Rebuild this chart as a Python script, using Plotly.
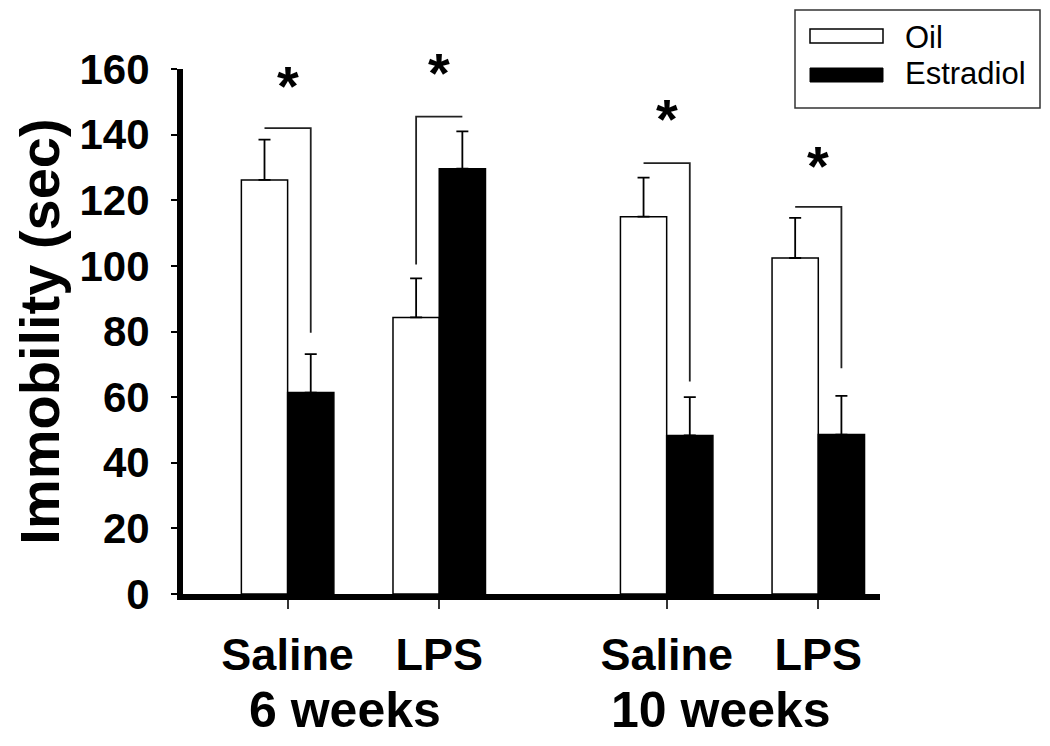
import plotly.graph_objects as go

# data (immobility, seconds)
treatments = ["Saline", "LPS", "Saline", "LPS"]
ages = ["6 weeks", "10 weeks"]
positions = [0, 1, 2.5, 3.5]

oil = [126.2, 84.3, 115.0, 102.4]
oil_err = [12.3, 11.9, 11.9, 12.2]
estradiol = [61.4, 129.6, 48.3, 48.6]
estradiol_err = [11.7, 11.4, 11.7, 11.8]

# significance brackets
bracket_top = [142, 145.5, 131.3, 118]
bracket_end = [79.6, 100.4, 64.8, 68.8]
bracket_side = ["right", "left", "right", "right"]
star_y = [158, 162, 148, 133.5]

YMAX = 160
# the page body has an 8px margin; keep the whole figure inside the window
OFF = 8
W, H = 1050 - 2 * OFF, 746 - 2 * OFF
L, R, T, B = 175, 162, 61, 144
BW = 0.305
FONT = "Liberation Sans"


def px(x):
    # page pixel -> paper x
    return (x - OFF - L) / (W - L - R)


def py(y):
    # page pixel -> paper y
    return (H - B - (y - OFF)) / (H - T - B)


fig = go.Figure()

fig.add_trace(go.Bar(
    x=positions, y=oil, name="Oil", offset=-BW, width=BW,
    marker=dict(color="white", line=dict(color="black", width=1.5)),
    error_y=dict(type="data", symmetric=False, array=oil_err,
                 arrayminus=[0] * 4, color="black", thickness=1.8, width=6),
))
fig.add_trace(go.Bar(
    x=positions, y=estradiol, name="Estradiol", offset=0, width=BW,
    marker=dict(color="black", line=dict(color="black", width=1.5)),
    error_y=dict(type="data", symmetric=False, array=estradiol_err,
                 arrayminus=[0] * 4, color="black", thickness=1.8, width=6),
))

# brackets + stars
for i, p in enumerate(positions):
    xo = p - BW / 2
    xe = p + BW / 2
    if bracket_side[i] == "right":
        bx = [xo, xe, xe]
        by = [bracket_top[i], bracket_top[i], bracket_end[i]]
    else:
        bx = [xo, xo, xe]
        by = [bracket_end[i], bracket_top[i], bracket_top[i]]
    fig.add_trace(go.Scatter(x=bx, y=by, mode="lines", showlegend=False,
                             line=dict(color="#222", width=1.8),
                             hoverinfo="skip"))
    fig.add_annotation(x=p, y=star_y[i] / YMAX, yref="paper", text="*",
                       showarrow=False, yanchor="middle", yshift=-10,
                       font=dict(family=FONT, size=56, color="black", weight="bold"))

# age labels under the axis
for txt, xa in zip(ages, [0.38, 2.86]):
    fig.add_annotation(x=xa, y=py(710), xref="x", yref="paper", text=txt,
                       showarrow=False, yanchor="middle",
                       font=dict(family=FONT, size=50, color="black", weight="bold"))

# legend drawn by hand
fig.add_shape(type="rect", xref="paper", yref="paper",
              x0=px(795), x1=px(1040), y0=py(108), y1=py(10),
              line=dict(color="#333", width=1.5), fillcolor="white")
fig.add_shape(type="rect", xref="paper", yref="paper",
              x0=px(810), x1=px(883), y0=py(43), y1=py(29),
              line=dict(color="black", width=1.5), fillcolor="white")
fig.add_shape(type="rect", xref="paper", yref="paper",
              x0=px(810), x1=px(883), y0=py(82), y1=py(68),
              line=dict(color="black", width=1), fillcolor="black")
for txt, yy in [("Oil", 37), ("Estradiol", 74)]:
    fig.add_annotation(x=px(903), y=py(yy), xref="paper", yref="paper",
                       text=txt, showarrow=False, xanchor="left", yanchor="middle",
                       font=dict(family=FONT, size=31, color="black"))

fig.update_layout(
    width=W, height=H,
    margin=dict(l=L, r=R, t=T, b=B),
    paper_bgcolor="white", plot_bgcolor="white",
    showlegend=False,
    font=dict(family=FONT, color="black"),
)
fig.update_xaxes(
    range=[-0.69, 3.907], tickvals=positions, ticktext=treatments,
    showgrid=False, zeroline=False, automargin=False,
    showline=True, linecolor="black", linewidth=6,
    ticks="outside", ticklen=9, tickwidth=1.5, tickcolor="#333",
    ticklabelstandoff=7,
    tickfont=dict(family=FONT, size=45, color="black", weight="bold"),
)
fig.update_yaxes(
    range=[0, YMAX], tickvals=list(range(0, YMAX + 1, 20)),
    showgrid=False, zeroline=False, automargin=False,
    showline=True, linecolor="black", linewidth=6,
    ticks="outside", ticklen=6, tickwidth=2, tickcolor="black",
    ticklabelstandoff=13,
    tickfont=dict(family=FONT, size=42, color="black", weight="bold"),
    title=dict(text="Immobility (sec)", standoff=12,
               font=dict(family=FONT, size=56, color="black", weight="bold")),
)

fig.write_html("out.html")
